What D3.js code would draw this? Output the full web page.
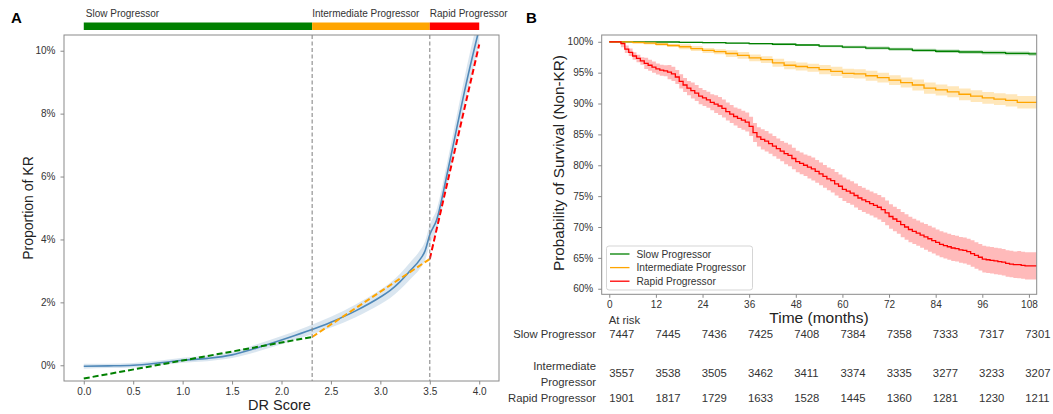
<!DOCTYPE html>
<html><head><meta charset="utf-8">
<script src="https://cdn.jsdelivr.net/npm/d3@7"></script>
<style>
body{margin:0;background:#fff;}
text{font-family:"Liberation Sans",Arial,sans-serif;}
</style></head>
<body><svg id="c" width="1053" height="414"></svg>
<script>
// ---------- Panel A data ----------
const groupNames = ["Slow Progressor","Intermediate Progressor","Rapid Progressor"];
const groupColors = ["#008000","#ffa500","#ff0000"];
const cutPoints = [0, 2.31, 3.5, 4.0];
const scoreX = [0,0.25,0.5,0.75,1.0,1.25,1.5,1.75,2.0,2.25,2.5,2.75,3.0,3.1,3.2,3.3,3.4,3.45,3.5,3.57,3.67,3.77,3.87,4.0];
const krProp = [-0.03,-0.02,0.0,0.07,0.16,0.22,0.33,0.55,0.8,1.07,1.37,1.73,2.17,2.38,2.66,3.0,3.36,3.62,4.15,4.63,6.0,7.5,8.98,10.7];
const krHalf = [0.08,0.07,0.07,0.07,0.08,0.09,0.1,0.12,0.13,0.15,0.17,0.2,0.23,0.24,0.25,0.27,0.29,0.3,0.32,0.33,0.36,0.4,0.45,0.5];
const fitX = [[0,2.31],[2.31,3.5],[3.5,4.0]];
const fitY = [[-0.42,0.9],[0.9,3.38],[3.38,10.2]];
const xTicksA = [0,0.5,1,1.5,2,2.5,3,3.5,4];
const yTicksA = [0,2,4,6,8,10];

// ---------- Panel B data ----------
const slowT = [0,6,12,18,24,30,36,42,48,54,60,66,72,78,84,90,96,102,108,110];
const slowS = [100,100,99.97,99.92,99.85,99.78,99.7,99.6,99.48,99.3,99.15,98.98,98.8,98.62,98.47,98.35,98.25,98.12,98.04,98.0];
const slowHalf = [0,0.04,0.08,0.12,0.16,0.2,0.24,0.27,0.3,0.32];
const interT = [0,3,6,9,12,15,18,21,24,27,30,33,36,39,42,45,48,51,54,57,60,63,66,69,72,75,78,81,84,87,90,93,96,99,102,105,108,110];
const interS = [100,100,99.9,99.8,99.6,99.4,99.2,98.9,98.6,98.4,98.1,97.8,97.4,97.1,96.6,96.2,96.0,95.8,95.5,95.2,94.9,94.8,94.5,94.2,93.8,93.4,93.0,92.5,92.2,91.9,91.5,91.2,90.9,90.7,90.5,90.2,90.2,90.1];
const interHalf = [0,0.25,0.4,0.55,0.65,0.75,0.8,0.9,0.95,1.0];
const rapidT = d3.range(0,109).concat([110]);
const rapidS = [100,100,100,99.7,98.8,98.3,97.7,97.3,96.9,96.5,96.2,95.9,95.6,95.4,95.3,95.1,94.8,94.3,93.6,93.0,92.5,92.1,91.7,91.2,90.9,90.6,90.2,89.9,89.6,89.2,88.7,88.3,87.9,87.6,87.3,87.0,86.3,85.3,84.6,84.2,83.9,83.5,83.1,82.7,82.3,81.9,81.6,81.1,80.6,80.3,80.0,79.7,79.4,79.0,78.6,78.2,77.8,77.5,77.0,76.6,76.1,75.8,75.5,75.1,74.7,74.4,74.1,73.8,73.5,73.2,72.8,72.3,71.7,71.3,70.9,70.4,70.0,69.6,69.3,69.0,68.7,68.4,68.1,67.8,67.5,67.2,67.0,66.8,66.6,66.5,66.3,66.2,66.0,65.7,65.4,65.1,64.8,64.7,64.6,64.5,64.4,64.3,64.1,64.0,63.9,63.9,63.8,63.7,63.7,63.6];
const rapidHalf = [0,0.6,0.9,1.15,1.3,1.45,1.55,1.65,1.75,1.85,1.9,1.95,2.0,2.05,2.1,2.1,2.15,2.15,2.2,2.2];
const xTicksB = [0,12,24,36,48,60,72,84,96,108];
const yTicksB = [60,65,70,75,80,85,90,95,100];
const atRiskSlow = [7447,7445,7436,7425,7408,7384,7358,7333,7317,7301];
const atRiskInter = [3557,3538,3505,3462,3411,3374,3335,3277,3233,3207];
const atRiskRapid = [1901,1817,1729,1633,1528,1445,1360,1281,1230,1211];

const svg = d3.select("#c");
const spine = "#8a8a8a", tickTxt = "#333";

// ================= Panel A =================
const A = {l:64, r:499, t:35, b:381};
const xA = d3.scaleLinear([-0.2,4.2],[A.l,A.r]);
const yA = d3.scaleLinear([-0.5,10.5],[A.b,A.t]);
const gA = svg.append("g");
gA.append("clipPath").attr("id","clipA").append("rect")
  .attr("x",A.l).attr("y",A.t).attr("width",A.r-A.l).attr("height",A.b-A.t);

for (let i=0;i<3;i++){
  gA.append("rect").attr("x",xA(cutPoints[i])).attr("y",22.5)
    .attr("width",xA(cutPoints[i+1])-xA(cutPoints[i])).attr("height",7.5)
    .attr("fill",groupColors[i]);
  gA.append("text").attr("x",xA(cutPoints[i])+(i===0?2:0)).attr("y",17)
    .attr("font-size",10).attr("fill",tickTxt).text(groupNames[i]);
}

const plotA = gA.append("g").attr("clip-path","url(#clipA)");
const ptsA = scoreX.map((x,i)=>({x,y:krProp[i],h:krHalf[i]}));
plotA.append("path").datum(ptsA)
  .attr("d",d3.area().x(d=>xA(d.x)).y0(d=>yA(d.y-d.h)).y1(d=>yA(d.y+d.h)).curve(d3.curveMonotoneX))
  .attr("fill","#4682b4").attr("fill-opacity",0.2);
plotA.append("path").datum(ptsA)
  .attr("d",d3.line().x(d=>xA(d.x)).y(d=>yA(d.y)).curve(d3.curveMonotoneX))
  .attr("fill","none").attr("stroke","#4f88b8").attr("stroke-width",1.6);
[cutPoints[1],cutPoints[2]].forEach(c=>{
  gA.append("line").attr("x1",xA(c)).attr("x2",xA(c)).attr("y1",A.t).attr("y2",A.b)
    .attr("stroke","#888").attr("stroke-width",1.1).attr("stroke-dasharray","4,2.5");
});
fitX.forEach((fx,i)=>{
  plotA.append("line").attr("x1",xA(fx[0])).attr("x2",xA(fx[1]))
    .attr("y1",yA(fitY[i][0])).attr("y2",yA(fitY[i][1]))
    .attr("stroke",groupColors[i]).attr("stroke-width",2).attr("stroke-dasharray","6,3");
});
gA.append("rect").attr("x",A.l).attr("y",A.t).attr("width",A.r-A.l).attr("height",A.b-A.t)
  .attr("fill","none").attr("stroke",spine).attr("stroke-width",1);
const axA_x = gA.append("g").attr("transform",`translate(0,${A.b})`)
  .call(d3.axisBottom(xA).tickValues(xTicksA).tickFormat(d3.format(".1f")).tickSize(3.5).tickSizeOuter(0));
const axA_y = gA.append("g").attr("transform",`translate(${A.l},0)`)
  .call(d3.axisLeft(yA).tickValues(yTicksA).tickFormat(d=>d+"%").tickSize(3.5).tickSizeOuter(0));
[axA_x,axA_y].forEach(ax=>{
  ax.select(".domain").remove();
  ax.selectAll("line").attr("stroke",spine);
  ax.selectAll("text").attr("font-size",10).attr("fill",tickTxt).attr("font-family","Liberation Sans, Arial, sans-serif");
});
axA_y.selectAll("text").attr("dx","-0.2em");
gA.append("text").attr("x",(A.l+A.r)/2-2).attr("y",410).attr("text-anchor","middle")
  .attr("font-size",14.5).attr("fill","#222").text("DR Score");
gA.append("text").attr("transform","translate(33,208) rotate(-90)").attr("text-anchor","middle")
  .attr("font-size",14).attr("fill","#222").text("Proportion of KR");
svg.append("text").attr("x",11).attr("y",23).attr("font-size",15).attr("font-weight","bold").text("A");
svg.append("text").attr("x",526).attr("y",23).attr("font-size",15).attr("font-weight","bold").text("B");

// ================= Panel B =================
const B = {l:601.7, r:1036.7, t:35, b:294.3};
const xB = d3.scaleLinear([-1.95,110],[B.l,B.r]);
const yB = d3.scaleLinear([59.1,101.1],[B.b,B.t]);
const gB = svg.append("g");
gB.append("clipPath").attr("id","clipB").append("rect")
  .attr("x",B.l).attr("y",B.t).attr("width",B.r-B.l).attr("height",B.b-B.t);
const plotB = gB.append("g").attr("clip-path","url(#clipB)");

const series = [
  {t:slowT, s:slowS, half:slowHalf, step:12, color:"#008000", name:groupNames[0]},
  {t:interT, s:interS, half:interHalf, step:12, color:"#ffa500", name:groupNames[1]},
  {t:rapidT, s:rapidS, half:rapidHalf, step:6, color:"#ff0000", name:groupNames[2]}
];
series.forEach(se=>{
  const pts = se.t.map((t,i)=>{
    const h = se.half[Math.min(se.half.length-1, Math.round(t/se.step))];
    return {t, s:se.s[i], lo:se.s[i]-h, hi:Math.min(100,se.s[i]+h)};
  });
  plotB.append("path").datum(pts)
    .attr("d",d3.area().x(d=>xB(d.t)).y0(d=>yB(d.lo)).y1(d=>yB(d.hi)).curve(d3.curveStepAfter))
    .attr("fill",se.color).attr("fill-opacity",0.27);
  plotB.append("path").datum(pts)
    .attr("d",d3.line().x(d=>xB(d.t)).y(d=>yB(d.s)).curve(d3.curveStepAfter))
    .attr("fill","none").attr("stroke",se.color).attr("stroke-width",1.3);
});
gB.append("rect").attr("x",B.l).attr("y",B.t).attr("width",B.r-B.l).attr("height",B.b-B.t)
  .attr("fill","none").attr("stroke",spine).attr("stroke-width",1);
const axB_x = gB.append("g").attr("transform",`translate(0,${B.b})`)
  .call(d3.axisBottom(xB).tickValues(xTicksB).tickSize(3.5).tickSizeOuter(0));
const axB_y = gB.append("g").attr("transform",`translate(${B.l},0)`)
  .call(d3.axisLeft(yB).tickValues(yTicksB).tickFormat(d=>d+"%").tickSize(3.5).tickSizeOuter(0));
[axB_x,axB_y].forEach(ax=>{
  ax.select(".domain").remove();
  ax.selectAll("line").attr("stroke",spine);
  ax.selectAll("text").attr("font-size",10).attr("fill",tickTxt).attr("font-family","Liberation Sans, Arial, sans-serif");
});
axB_y.selectAll("text").attr("dx","-0.2em");

const lg = gB.append("g").attr("transform","translate(606.5,246)");
lg.append("rect").attr("width",146).attr("height",44).attr("rx",2.5)
  .attr("fill","#fff").attr("fill-opacity",0.85).attr("stroke","#d5d5d5");
series.forEach((se,i)=>{
  const y = 8 + i*13.6;
  lg.append("line").attr("x1",3.5).attr("x2",23).attr("y1",y).attr("y2",y)
    .attr("stroke",se.color).attr("stroke-width",1.3);
  lg.append("text").attr("x",30).attr("y",y+3.6).attr("font-size",10.2).attr("fill","#333").text(se.name);
});

gB.append("text").attr("transform","translate(564,163) rotate(-90)").attr("text-anchor","middle")
  .attr("font-size",15.3).attr("fill","#222").text("Probability of Survival (Non-KR)");
gB.append("text").attr("x",819).attr("y",323).attr("text-anchor","middle")
  .attr("font-size",15.5).attr("fill","#222").text("Time (months)");
gB.append("text").attr("x",xB(0)-0.5).attr("y",324).attr("font-size",11.3).attr("fill","#333").text("At risk");

const tableRows = [
  {lines:["Slow Progressor"], vals:atRiskSlow, y:338},
  {lines:["Intermediate","Progressor"], vals:atRiskInter, y:377},
  {lines:["Rapid Progressor"], vals:atRiskRapid, y:402}
];
tableRows.forEach(r=>{
  if (r.lines.length===1){
    gB.append("text").attr("x",596).attr("y",r.y).attr("text-anchor","end")
      .attr("font-size",11.3).attr("fill","#333").text(r.lines[0]);
  } else {
    gB.append("text").attr("x",596).attr("y",r.y-7.5).attr("text-anchor","end")
      .attr("font-size",11.3).attr("fill","#333").text(r.lines[0]);
    gB.append("text").attr("x",596).attr("y",r.y+8.5).attr("text-anchor","end")
      .attr("font-size",11.3).attr("fill","#333").text(r.lines[1]);
  }
  r.vals.forEach((v,i)=>{
    gB.append("text").attr("x",xB(xTicksB[i])-(i*0.4)).attr("y",r.y)
      .attr("font-size",11.3).attr("fill","#333").text(v);
  });
});
</script></body></html>
